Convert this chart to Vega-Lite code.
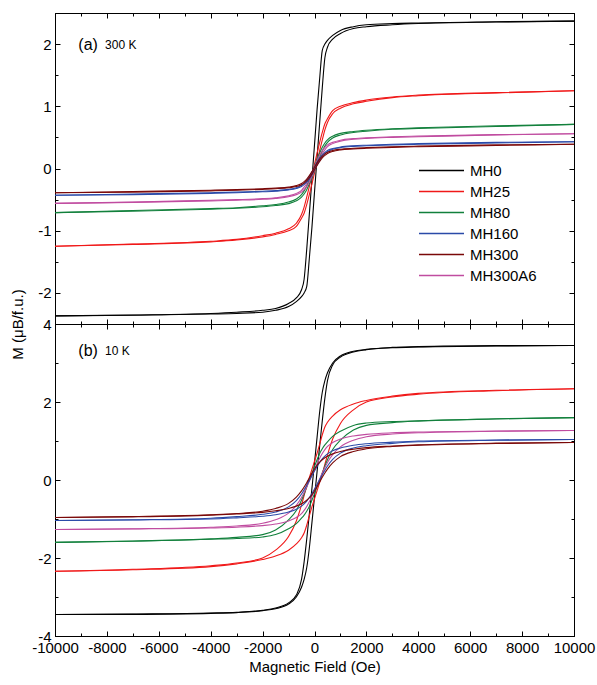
{
"$schema": "https://vega.github.io/schema/vega-lite/v6.json",
"padding": {"left": 10, "top": 12, "right": 20, "bottom": 5},
"config": {"font": "Liberation Sans", "view": {"stroke": "black", "strokeWidth": 1}, "axis": {"domainColor": "black", "tickColor": "black", "labelColor": "black", "titleColor": "black", "grid": false, "labelFontSize": 15, "titleFontSize": 15, "titleFontWeight": "normal", "labelOverlap": false, "labelFlush": false}},
"datasets": {
"a": [
{"s":"MH0","b":"d","h":10000,"m":2.37},{"s":"MH0","b":"d","h":7000,"m":2.36},{"s":"MH0","b":"d","h":4000,"m":2.34},{"s":"MH0","b":"d","h":3000,"m":2.33},{"s":"MH0","b":"d","h":2000,"m":2.31},{"s":"MH0","b":"d","h":1500,"m":2.28},{"s":"MH0","b":"d","h":1000,"m":2.22},{"s":"MH0","b":"d","h":700,"m":2.14},{"s":"MH0","b":"d","h":500,"m":2.06},{"s":"MH0","b":"d","h":400,"m":2.0},{"s":"MH0","b":"d","h":300,"m":1.9},{"s":"MH0","b":"d","h":200,"m":1.45},{"s":"MH0","b":"d","h":100,"m":0.95},{"s":"MH0","b":"d","h":0,"m":0.38},{"s":"MH0","b":"d","h":-100,"m":-0.18},{"s":"MH0","b":"d","h":-200,"m":-0.74},{"s":"MH0","b":"d","h":-300,"m":-1.3},{"s":"MH0","b":"d","h":-400,"m":-1.78},{"s":"MH0","b":"d","h":-500,"m":-1.95},{"s":"MH0","b":"d","h":-700,"m":-2.08},{"s":"MH0","b":"d","h":-1000,"m":-2.17},{"s":"MH0","b":"d","h":-1500,"m":-2.25},{"s":"MH0","b":"d","h":-2000,"m":-2.28},{"s":"MH0","b":"d","h":-3000,"m":-2.31},{"s":"MH0","b":"d","h":-4000,"m":-2.33},{"s":"MH0","b":"d","h":-7000,"m":-2.355},{"s":"MH0","b":"d","h":-10000,"m":-2.37},
{"s":"MH0","b":"a","h":10000,"m":2.37},{"s":"MH0","b":"a","h":7000,"m":2.355},{"s":"MH0","b":"a","h":4000,"m":2.33},{"s":"MH0","b":"a","h":3000,"m":2.31},{"s":"MH0","b":"a","h":2000,"m":2.28},{"s":"MH0","b":"a","h":1500,"m":2.25},{"s":"MH0","b":"a","h":1000,"m":2.17},{"s":"MH0","b":"a","h":700,"m":2.08},{"s":"MH0","b":"a","h":500,"m":1.95},{"s":"MH0","b":"a","h":400,"m":1.78},{"s":"MH0","b":"a","h":300,"m":1.3},{"s":"MH0","b":"a","h":200,"m":0.74},{"s":"MH0","b":"a","h":100,"m":0.18},{"s":"MH0","b":"a","h":0,"m":-0.38},{"s":"MH0","b":"a","h":-100,"m":-0.95},{"s":"MH0","b":"a","h":-200,"m":-1.45},{"s":"MH0","b":"a","h":-300,"m":-1.9},{"s":"MH0","b":"a","h":-400,"m":-2.0},{"s":"MH0","b":"a","h":-500,"m":-2.06},{"s":"MH0","b":"a","h":-700,"m":-2.14},{"s":"MH0","b":"a","h":-1000,"m":-2.22},{"s":"MH0","b":"a","h":-1500,"m":-2.28},{"s":"MH0","b":"a","h":-2000,"m":-2.31},{"s":"MH0","b":"a","h":-3000,"m":-2.33},{"s":"MH0","b":"a","h":-4000,"m":-2.34},{"s":"MH0","b":"a","h":-7000,"m":-2.36},{"s":"MH0","b":"a","h":-10000,"m":-2.37},
{"s":"MH25","b":"d","h":10000,"m":1.25},{"s":"MH25","b":"d","h":7000,"m":1.22},{"s":"MH25","b":"d","h":4000,"m":1.18},{"s":"MH25","b":"d","h":3000,"m":1.15},{"s":"MH25","b":"d","h":2000,"m":1.1},{"s":"MH25","b":"d","h":1500,"m":1.06},{"s":"MH25","b":"d","h":1000,"m":1.0},{"s":"MH25","b":"d","h":700,"m":0.93},{"s":"MH25","b":"d","h":500,"m":0.8},{"s":"MH25","b":"d","h":400,"m":0.72},{"s":"MH25","b":"d","h":300,"m":0.58},{"s":"MH25","b":"d","h":200,"m":0.42},{"s":"MH25","b":"d","h":100,"m":0.25},{"s":"MH25","b":"d","h":0,"m":0.07},{"s":"MH25","b":"d","h":-100,"m":-0.11},{"s":"MH25","b":"d","h":-200,"m":-0.29},{"s":"MH25","b":"d","h":-300,"m":-0.46},{"s":"MH25","b":"d","h":-400,"m":-0.62},{"s":"MH25","b":"d","h":-500,"m":-0.74},{"s":"MH25","b":"d","h":-700,"m":-0.88},{"s":"MH25","b":"d","h":-1000,"m":-0.97},{"s":"MH25","b":"d","h":-1500,"m":-1.04},{"s":"MH25","b":"d","h":-2000,"m":-1.08},{"s":"MH25","b":"d","h":-3000,"m":-1.14},{"s":"MH25","b":"d","h":-4000,"m":-1.17},{"s":"MH25","b":"d","h":-7000,"m":-1.215},{"s":"MH25","b":"d","h":-10000,"m":-1.25},
{"s":"MH25","b":"a","h":10000,"m":1.25},{"s":"MH25","b":"a","h":7000,"m":1.215},{"s":"MH25","b":"a","h":4000,"m":1.17},{"s":"MH25","b":"a","h":3000,"m":1.14},{"s":"MH25","b":"a","h":2000,"m":1.08},{"s":"MH25","b":"a","h":1500,"m":1.04},{"s":"MH25","b":"a","h":1000,"m":0.97},{"s":"MH25","b":"a","h":700,"m":0.88},{"s":"MH25","b":"a","h":500,"m":0.74},{"s":"MH25","b":"a","h":400,"m":0.62},{"s":"MH25","b":"a","h":300,"m":0.46},{"s":"MH25","b":"a","h":200,"m":0.29},{"s":"MH25","b":"a","h":100,"m":0.11},{"s":"MH25","b":"a","h":0,"m":-0.07},{"s":"MH25","b":"a","h":-100,"m":-0.25},{"s":"MH25","b":"a","h":-200,"m":-0.42},{"s":"MH25","b":"a","h":-300,"m":-0.58},{"s":"MH25","b":"a","h":-400,"m":-0.72},{"s":"MH25","b":"a","h":-500,"m":-0.8},{"s":"MH25","b":"a","h":-700,"m":-0.93},{"s":"MH25","b":"a","h":-1000,"m":-1.0},{"s":"MH25","b":"a","h":-1500,"m":-1.06},{"s":"MH25","b":"a","h":-2000,"m":-1.1},{"s":"MH25","b":"a","h":-3000,"m":-1.15},{"s":"MH25","b":"a","h":-4000,"m":-1.18},{"s":"MH25","b":"a","h":-7000,"m":-1.22},{"s":"MH25","b":"a","h":-10000,"m":-1.25},
{"s":"MH80","b":"d","h":10000,"m":0.71},{"s":"MH80","b":"d","h":7000,"m":0.685},{"s":"MH80","b":"d","h":4000,"m":0.655},{"s":"MH80","b":"d","h":3000,"m":0.64},{"s":"MH80","b":"d","h":2000,"m":0.615},{"s":"MH80","b":"d","h":1500,"m":0.595},{"s":"MH80","b":"d","h":1000,"m":0.565},{"s":"MH80","b":"d","h":700,"m":0.52},{"s":"MH80","b":"d","h":500,"m":0.46},{"s":"MH80","b":"d","h":400,"m":0.41},{"s":"MH80","b":"d","h":300,"m":0.34},{"s":"MH80","b":"d","h":200,"m":0.25},{"s":"MH80","b":"d","h":100,"m":0.15},{"s":"MH80","b":"d","h":0,"m":0.04},{"s":"MH80","b":"d","h":-100,"m":-0.07},{"s":"MH80","b":"d","h":-200,"m":-0.18},{"s":"MH80","b":"d","h":-300,"m":-0.28},{"s":"MH80","b":"d","h":-400,"m":-0.36},{"s":"MH80","b":"d","h":-500,"m":-0.42},{"s":"MH80","b":"d","h":-700,"m":-0.49},{"s":"MH80","b":"d","h":-1000,"m":-0.54},{"s":"MH80","b":"d","h":-1500,"m":-0.58},{"s":"MH80","b":"d","h":-2000,"m":-0.6},{"s":"MH80","b":"d","h":-3000,"m":-0.63},{"s":"MH80","b":"d","h":-4000,"m":-0.645},{"s":"MH80","b":"d","h":-7000,"m":-0.675},{"s":"MH80","b":"d","h":-10000,"m":-0.71},
{"s":"MH80","b":"a","h":10000,"m":0.71},{"s":"MH80","b":"a","h":7000,"m":0.675},{"s":"MH80","b":"a","h":4000,"m":0.645},{"s":"MH80","b":"a","h":3000,"m":0.63},{"s":"MH80","b":"a","h":2000,"m":0.6},{"s":"MH80","b":"a","h":1500,"m":0.58},{"s":"MH80","b":"a","h":1000,"m":0.54},{"s":"MH80","b":"a","h":700,"m":0.49},{"s":"MH80","b":"a","h":500,"m":0.42},{"s":"MH80","b":"a","h":400,"m":0.36},{"s":"MH80","b":"a","h":300,"m":0.28},{"s":"MH80","b":"a","h":200,"m":0.18},{"s":"MH80","b":"a","h":100,"m":0.07},{"s":"MH80","b":"a","h":0,"m":-0.04},{"s":"MH80","b":"a","h":-100,"m":-0.15},{"s":"MH80","b":"a","h":-200,"m":-0.25},{"s":"MH80","b":"a","h":-300,"m":-0.34},{"s":"MH80","b":"a","h":-400,"m":-0.41},{"s":"MH80","b":"a","h":-500,"m":-0.46},{"s":"MH80","b":"a","h":-700,"m":-0.52},{"s":"MH80","b":"a","h":-1000,"m":-0.565},{"s":"MH80","b":"a","h":-1500,"m":-0.595},{"s":"MH80","b":"a","h":-2000,"m":-0.615},{"s":"MH80","b":"a","h":-3000,"m":-0.64},{"s":"MH80","b":"a","h":-4000,"m":-0.655},{"s":"MH80","b":"a","h":-7000,"m":-0.685},{"s":"MH80","b":"a","h":-10000,"m":-0.71},
{"s":"MH300A6","b":"d","h":10000,"m":0.56},{"s":"MH300A6","b":"d","h":7000,"m":0.545},{"s":"MH300A6","b":"d","h":4000,"m":0.52},{"s":"MH300A6","b":"d","h":3000,"m":0.51},{"s":"MH300A6","b":"d","h":2000,"m":0.495},{"s":"MH300A6","b":"d","h":1500,"m":0.48},{"s":"MH300A6","b":"d","h":1000,"m":0.455},{"s":"MH300A6","b":"d","h":700,"m":0.42},{"s":"MH300A6","b":"d","h":500,"m":0.38},{"s":"MH300A6","b":"d","h":400,"m":0.34},{"s":"MH300A6","b":"d","h":300,"m":0.29},{"s":"MH300A6","b":"d","h":200,"m":0.22},{"s":"MH300A6","b":"d","h":100,"m":0.13},{"s":"MH300A6","b":"d","h":0,"m":0.03},{"s":"MH300A6","b":"d","h":-100,"m":-0.07},{"s":"MH300A6","b":"d","h":-200,"m":-0.16},{"s":"MH300A6","b":"d","h":-300,"m":-0.24},{"s":"MH300A6","b":"d","h":-400,"m":-0.3},{"s":"MH300A6","b":"d","h":-500,"m":-0.35},{"s":"MH300A6","b":"d","h":-700,"m":-0.4},{"s":"MH300A6","b":"d","h":-1000,"m":-0.44},{"s":"MH300A6","b":"d","h":-1500,"m":-0.47},{"s":"MH300A6","b":"d","h":-2000,"m":-0.485},{"s":"MH300A6","b":"d","h":-3000,"m":-0.5},{"s":"MH300A6","b":"d","h":-4000,"m":-0.51},{"s":"MH300A6","b":"d","h":-7000,"m":-0.54},{"s":"MH300A6","b":"d","h":-10000,"m":-0.56},
{"s":"MH300A6","b":"a","h":10000,"m":0.56},{"s":"MH300A6","b":"a","h":7000,"m":0.54},{"s":"MH300A6","b":"a","h":4000,"m":0.51},{"s":"MH300A6","b":"a","h":3000,"m":0.5},{"s":"MH300A6","b":"a","h":2000,"m":0.485},{"s":"MH300A6","b":"a","h":1500,"m":0.47},{"s":"MH300A6","b":"a","h":1000,"m":0.44},{"s":"MH300A6","b":"a","h":700,"m":0.4},{"s":"MH300A6","b":"a","h":500,"m":0.35},{"s":"MH300A6","b":"a","h":400,"m":0.3},{"s":"MH300A6","b":"a","h":300,"m":0.24},{"s":"MH300A6","b":"a","h":200,"m":0.16},{"s":"MH300A6","b":"a","h":100,"m":0.07},{"s":"MH300A6","b":"a","h":0,"m":-0.03},{"s":"MH300A6","b":"a","h":-100,"m":-0.13},{"s":"MH300A6","b":"a","h":-200,"m":-0.22},{"s":"MH300A6","b":"a","h":-300,"m":-0.29},{"s":"MH300A6","b":"a","h":-400,"m":-0.34},{"s":"MH300A6","b":"a","h":-500,"m":-0.38},{"s":"MH300A6","b":"a","h":-700,"m":-0.42},{"s":"MH300A6","b":"a","h":-1000,"m":-0.455},{"s":"MH300A6","b":"a","h":-1500,"m":-0.48},{"s":"MH300A6","b":"a","h":-2000,"m":-0.495},{"s":"MH300A6","b":"a","h":-3000,"m":-0.51},{"s":"MH300A6","b":"a","h":-4000,"m":-0.52},{"s":"MH300A6","b":"a","h":-7000,"m":-0.545},{"s":"MH300A6","b":"a","h":-10000,"m":-0.56},
{"s":"MH160","b":"d","h":10000,"m":0.43},{"s":"MH160","b":"d","h":7000,"m":0.42},{"s":"MH160","b":"d","h":4000,"m":0.4},{"s":"MH160","b":"d","h":3000,"m":0.39},{"s":"MH160","b":"d","h":2000,"m":0.375},{"s":"MH160","b":"d","h":1500,"m":0.365},{"s":"MH160","b":"d","h":1000,"m":0.345},{"s":"MH160","b":"d","h":700,"m":0.32},{"s":"MH160","b":"d","h":500,"m":0.29},{"s":"MH160","b":"d","h":400,"m":0.26},{"s":"MH160","b":"d","h":300,"m":0.22},{"s":"MH160","b":"d","h":200,"m":0.17},{"s":"MH160","b":"d","h":100,"m":0.1},{"s":"MH160","b":"d","h":0,"m":0.02},{"s":"MH160","b":"d","h":-100,"m":-0.06},{"s":"MH160","b":"d","h":-200,"m":-0.13},{"s":"MH160","b":"d","h":-300,"m":-0.19},{"s":"MH160","b":"d","h":-400,"m":-0.24},{"s":"MH160","b":"d","h":-500,"m":-0.27},{"s":"MH160","b":"d","h":-700,"m":-0.31},{"s":"MH160","b":"d","h":-1000,"m":-0.335},{"s":"MH160","b":"d","h":-1500,"m":-0.355},{"s":"MH160","b":"d","h":-2000,"m":-0.365},{"s":"MH160","b":"d","h":-3000,"m":-0.38},{"s":"MH160","b":"d","h":-4000,"m":-0.39},{"s":"MH160","b":"d","h":-7000,"m":-0.41},{"s":"MH160","b":"d","h":-10000,"m":-0.43},
{"s":"MH160","b":"a","h":10000,"m":0.43},{"s":"MH160","b":"a","h":7000,"m":0.41},{"s":"MH160","b":"a","h":4000,"m":0.39},{"s":"MH160","b":"a","h":3000,"m":0.38},{"s":"MH160","b":"a","h":2000,"m":0.365},{"s":"MH160","b":"a","h":1500,"m":0.355},{"s":"MH160","b":"a","h":1000,"m":0.335},{"s":"MH160","b":"a","h":700,"m":0.31},{"s":"MH160","b":"a","h":500,"m":0.27},{"s":"MH160","b":"a","h":400,"m":0.24},{"s":"MH160","b":"a","h":300,"m":0.19},{"s":"MH160","b":"a","h":200,"m":0.13},{"s":"MH160","b":"a","h":100,"m":0.06},{"s":"MH160","b":"a","h":0,"m":-0.02},{"s":"MH160","b":"a","h":-100,"m":-0.1},{"s":"MH160","b":"a","h":-200,"m":-0.17},{"s":"MH160","b":"a","h":-300,"m":-0.22},{"s":"MH160","b":"a","h":-400,"m":-0.26},{"s":"MH160","b":"a","h":-500,"m":-0.29},{"s":"MH160","b":"a","h":-700,"m":-0.32},{"s":"MH160","b":"a","h":-1000,"m":-0.345},{"s":"MH160","b":"a","h":-1500,"m":-0.365},{"s":"MH160","b":"a","h":-2000,"m":-0.375},{"s":"MH160","b":"a","h":-3000,"m":-0.39},{"s":"MH160","b":"a","h":-4000,"m":-0.4},{"s":"MH160","b":"a","h":-7000,"m":-0.42},{"s":"MH160","b":"a","h":-10000,"m":-0.43},
{"s":"MH300","b":"d","h":10000,"m":0.39},{"s":"MH300","b":"d","h":7000,"m":0.38},{"s":"MH300","b":"d","h":4000,"m":0.36},{"s":"MH300","b":"d","h":3000,"m":0.35},{"s":"MH300","b":"d","h":2000,"m":0.335},{"s":"MH300","b":"d","h":1500,"m":0.325},{"s":"MH300","b":"d","h":1000,"m":0.31},{"s":"MH300","b":"d","h":700,"m":0.29},{"s":"MH300","b":"d","h":500,"m":0.26},{"s":"MH300","b":"d","h":400,"m":0.235},{"s":"MH300","b":"d","h":300,"m":0.2},{"s":"MH300","b":"d","h":200,"m":0.15},{"s":"MH300","b":"d","h":100,"m":0.09},{"s":"MH300","b":"d","h":0,"m":0.02},{"s":"MH300","b":"d","h":-100,"m":-0.05},{"s":"MH300","b":"d","h":-200,"m":-0.115},{"s":"MH300","b":"d","h":-300,"m":-0.17},{"s":"MH300","b":"d","h":-400,"m":-0.21},{"s":"MH300","b":"d","h":-500,"m":-0.24},{"s":"MH300","b":"d","h":-700,"m":-0.275},{"s":"MH300","b":"d","h":-1000,"m":-0.3},{"s":"MH300","b":"d","h":-1500,"m":-0.315},{"s":"MH300","b":"d","h":-2000,"m":-0.325},{"s":"MH300","b":"d","h":-3000,"m":-0.34},{"s":"MH300","b":"d","h":-4000,"m":-0.35},{"s":"MH300","b":"d","h":-7000,"m":-0.37},{"s":"MH300","b":"d","h":-10000,"m":-0.39},
{"s":"MH300","b":"a","h":10000,"m":0.39},{"s":"MH300","b":"a","h":7000,"m":0.37},{"s":"MH300","b":"a","h":4000,"m":0.35},{"s":"MH300","b":"a","h":3000,"m":0.34},{"s":"MH300","b":"a","h":2000,"m":0.325},{"s":"MH300","b":"a","h":1500,"m":0.315},{"s":"MH300","b":"a","h":1000,"m":0.3},{"s":"MH300","b":"a","h":700,"m":0.275},{"s":"MH300","b":"a","h":500,"m":0.24},{"s":"MH300","b":"a","h":400,"m":0.21},{"s":"MH300","b":"a","h":300,"m":0.17},{"s":"MH300","b":"a","h":200,"m":0.115},{"s":"MH300","b":"a","h":100,"m":0.05},{"s":"MH300","b":"a","h":0,"m":-0.02},{"s":"MH300","b":"a","h":-100,"m":-0.09},{"s":"MH300","b":"a","h":-200,"m":-0.15},{"s":"MH300","b":"a","h":-300,"m":-0.2},{"s":"MH300","b":"a","h":-400,"m":-0.235},{"s":"MH300","b":"a","h":-500,"m":-0.26},{"s":"MH300","b":"a","h":-700,"m":-0.29},{"s":"MH300","b":"a","h":-1000,"m":-0.31},{"s":"MH300","b":"a","h":-1500,"m":-0.325},{"s":"MH300","b":"a","h":-2000,"m":-0.335},{"s":"MH300","b":"a","h":-3000,"m":-0.35},{"s":"MH300","b":"a","h":-4000,"m":-0.36},{"s":"MH300","b":"a","h":-7000,"m":-0.38},{"s":"MH300","b":"a","h":-10000,"m":-0.39}
],
"b": [
{"s":"MH0","b":"d","h":10000,"m":3.45},{"s":"MH0","b":"d","h":7000,"m":3.445},{"s":"MH0","b":"d","h":4000,"m":3.42},{"s":"MH0","b":"d","h":3000,"m":3.4},{"s":"MH0","b":"d","h":2000,"m":3.35},{"s":"MH0","b":"d","h":1500,"m":3.3},{"s":"MH0","b":"d","h":1000,"m":3.18},{"s":"MH0","b":"d","h":700,"m":3.0},{"s":"MH0","b":"d","h":500,"m":2.75},{"s":"MH0","b":"d","h":400,"m":2.55},{"s":"MH0","b":"d","h":300,"m":2.25},{"s":"MH0","b":"d","h":200,"m":1.75},{"s":"MH0","b":"d","h":100,"m":1.1},{"s":"MH0","b":"d","h":0,"m":0.44},{"s":"MH0","b":"d","h":-100,"m":-0.22},{"s":"MH0","b":"d","h":-200,"m":-0.88},{"s":"MH0","b":"d","h":-300,"m":-1.52},{"s":"MH0","b":"d","h":-400,"m":-2.1},{"s":"MH0","b":"d","h":-500,"m":-2.55},{"s":"MH0","b":"d","h":-700,"m":-2.95},{"s":"MH0","b":"d","h":-1000,"m":-3.15},{"s":"MH0","b":"d","h":-1500,"m":-3.28},{"s":"MH0","b":"d","h":-2000,"m":-3.34},{"s":"MH0","b":"d","h":-3000,"m":-3.39},{"s":"MH0","b":"d","h":-4000,"m":-3.41},{"s":"MH0","b":"d","h":-7000,"m":-3.435},{"s":"MH0","b":"d","h":-10000,"m":-3.45},
{"s":"MH0","b":"a","h":10000,"m":3.45},{"s":"MH0","b":"a","h":7000,"m":3.435},{"s":"MH0","b":"a","h":4000,"m":3.41},{"s":"MH0","b":"a","h":3000,"m":3.39},{"s":"MH0","b":"a","h":2000,"m":3.34},{"s":"MH0","b":"a","h":1500,"m":3.28},{"s":"MH0","b":"a","h":1000,"m":3.15},{"s":"MH0","b":"a","h":700,"m":2.95},{"s":"MH0","b":"a","h":500,"m":2.55},{"s":"MH0","b":"a","h":400,"m":2.1},{"s":"MH0","b":"a","h":300,"m":1.52},{"s":"MH0","b":"a","h":200,"m":0.88},{"s":"MH0","b":"a","h":100,"m":0.22},{"s":"MH0","b":"a","h":0,"m":-0.44},{"s":"MH0","b":"a","h":-100,"m":-1.1},{"s":"MH0","b":"a","h":-200,"m":-1.75},{"s":"MH0","b":"a","h":-300,"m":-2.25},{"s":"MH0","b":"a","h":-400,"m":-2.55},{"s":"MH0","b":"a","h":-500,"m":-2.75},{"s":"MH0","b":"a","h":-700,"m":-3.0},{"s":"MH0","b":"a","h":-1000,"m":-3.18},{"s":"MH0","b":"a","h":-1500,"m":-3.3},{"s":"MH0","b":"a","h":-2000,"m":-3.35},{"s":"MH0","b":"a","h":-3000,"m":-3.4},{"s":"MH0","b":"a","h":-4000,"m":-3.42},{"s":"MH0","b":"a","h":-7000,"m":-3.445},{"s":"MH0","b":"a","h":-10000,"m":-3.45},
{"s":"MH25","b":"d","h":10000,"m":2.34},{"s":"MH25","b":"d","h":7000,"m":2.3},{"s":"MH25","b":"d","h":4000,"m":2.22},{"s":"MH25","b":"d","h":3000,"m":2.15},{"s":"MH25","b":"d","h":2000,"m":2.04},{"s":"MH25","b":"d","h":1500,"m":1.95},{"s":"MH25","b":"d","h":1000,"m":1.8},{"s":"MH25","b":"d","h":700,"m":1.64},{"s":"MH25","b":"d","h":500,"m":1.48},{"s":"MH25","b":"d","h":400,"m":1.36},{"s":"MH25","b":"d","h":300,"m":1.16},{"s":"MH25","b":"d","h":200,"m":0.92},{"s":"MH25","b":"d","h":100,"m":0.69},{"s":"MH25","b":"d","h":0,"m":0.48},{"s":"MH25","b":"d","h":-100,"m":0.27},{"s":"MH25","b":"d","h":-200,"m":0.06},{"s":"MH25","b":"d","h":-300,"m":-0.16},{"s":"MH25","b":"d","h":-400,"m":-0.4},{"s":"MH25","b":"d","h":-500,"m":-0.64},{"s":"MH25","b":"d","h":-700,"m":-1.05},{"s":"MH25","b":"d","h":-1000,"m":-1.45},{"s":"MH25","b":"d","h":-1500,"m":-1.8},{"s":"MH25","b":"d","h":-2000,"m":-2.0},{"s":"MH25","b":"d","h":-3000,"m":-2.13},{"s":"MH25","b":"d","h":-4000,"m":-2.2},{"s":"MH25","b":"d","h":-7000,"m":-2.29},{"s":"MH25","b":"d","h":-10000,"m":-2.34},
{"s":"MH25","b":"a","h":10000,"m":2.34},{"s":"MH25","b":"a","h":7000,"m":2.29},{"s":"MH25","b":"a","h":4000,"m":2.2},{"s":"MH25","b":"a","h":3000,"m":2.13},{"s":"MH25","b":"a","h":2000,"m":2.0},{"s":"MH25","b":"a","h":1500,"m":1.8},{"s":"MH25","b":"a","h":1000,"m":1.45},{"s":"MH25","b":"a","h":700,"m":1.05},{"s":"MH25","b":"a","h":500,"m":0.64},{"s":"MH25","b":"a","h":400,"m":0.4},{"s":"MH25","b":"a","h":300,"m":0.16},{"s":"MH25","b":"a","h":200,"m":-0.06},{"s":"MH25","b":"a","h":100,"m":-0.27},{"s":"MH25","b":"a","h":0,"m":-0.48},{"s":"MH25","b":"a","h":-100,"m":-0.69},{"s":"MH25","b":"a","h":-200,"m":-0.92},{"s":"MH25","b":"a","h":-300,"m":-1.16},{"s":"MH25","b":"a","h":-400,"m":-1.36},{"s":"MH25","b":"a","h":-500,"m":-1.48},{"s":"MH25","b":"a","h":-700,"m":-1.64},{"s":"MH25","b":"a","h":-1000,"m":-1.8},{"s":"MH25","b":"a","h":-1500,"m":-1.95},{"s":"MH25","b":"a","h":-2000,"m":-2.04},{"s":"MH25","b":"a","h":-3000,"m":-2.15},{"s":"MH25","b":"a","h":-4000,"m":-2.22},{"s":"MH25","b":"a","h":-7000,"m":-2.3},{"s":"MH25","b":"a","h":-10000,"m":-2.34},
{"s":"MH80","b":"d","h":10000,"m":1.6},{"s":"MH80","b":"d","h":7000,"m":1.57},{"s":"MH80","b":"d","h":4000,"m":1.52},{"s":"MH80","b":"d","h":3000,"m":1.5},{"s":"MH80","b":"d","h":2000,"m":1.46},{"s":"MH80","b":"d","h":1500,"m":1.4},{"s":"MH80","b":"d","h":1000,"m":1.25},{"s":"MH80","b":"d","h":700,"m":1.12},{"s":"MH80","b":"d","h":500,"m":0.98},{"s":"MH80","b":"d","h":400,"m":0.9},{"s":"MH80","b":"d","h":300,"m":0.8},{"s":"MH80","b":"d","h":200,"m":0.68},{"s":"MH80","b":"d","h":100,"m":0.52},{"s":"MH80","b":"d","h":0,"m":0.35},{"s":"MH80","b":"d","h":-100,"m":0.17},{"s":"MH80","b":"d","h":-200,"m":0.0},{"s":"MH80","b":"d","h":-300,"m":-0.18},{"s":"MH80","b":"d","h":-400,"m":-0.36},{"s":"MH80","b":"d","h":-500,"m":-0.52},{"s":"MH80","b":"d","h":-700,"m":-0.78},{"s":"MH80","b":"d","h":-1000,"m":-1.02},{"s":"MH80","b":"d","h":-1500,"m":-1.28},{"s":"MH80","b":"d","h":-2000,"m":-1.4},{"s":"MH80","b":"d","h":-3000,"m":-1.47},{"s":"MH80","b":"d","h":-4000,"m":-1.51},{"s":"MH80","b":"d","h":-7000,"m":-1.565},{"s":"MH80","b":"d","h":-10000,"m":-1.6},
{"s":"MH80","b":"a","h":10000,"m":1.6},{"s":"MH80","b":"a","h":7000,"m":1.565},{"s":"MH80","b":"a","h":4000,"m":1.51},{"s":"MH80","b":"a","h":3000,"m":1.47},{"s":"MH80","b":"a","h":2000,"m":1.4},{"s":"MH80","b":"a","h":1500,"m":1.28},{"s":"MH80","b":"a","h":1000,"m":1.02},{"s":"MH80","b":"a","h":700,"m":0.78},{"s":"MH80","b":"a","h":500,"m":0.52},{"s":"MH80","b":"a","h":400,"m":0.36},{"s":"MH80","b":"a","h":300,"m":0.18},{"s":"MH80","b":"a","h":200,"m":0.0},{"s":"MH80","b":"a","h":100,"m":-0.17},{"s":"MH80","b":"a","h":0,"m":-0.35},{"s":"MH80","b":"a","h":-100,"m":-0.52},{"s":"MH80","b":"a","h":-200,"m":-0.68},{"s":"MH80","b":"a","h":-300,"m":-0.8},{"s":"MH80","b":"a","h":-400,"m":-0.9},{"s":"MH80","b":"a","h":-500,"m":-0.98},{"s":"MH80","b":"a","h":-700,"m":-1.12},{"s":"MH80","b":"a","h":-1000,"m":-1.25},{"s":"MH80","b":"a","h":-1500,"m":-1.4},{"s":"MH80","b":"a","h":-2000,"m":-1.46},{"s":"MH80","b":"a","h":-3000,"m":-1.5},{"s":"MH80","b":"a","h":-4000,"m":-1.52},{"s":"MH80","b":"a","h":-7000,"m":-1.57},{"s":"MH80","b":"a","h":-10000,"m":-1.6},
{"s":"MH300A6","b":"d","h":10000,"m":1.27},{"s":"MH300A6","b":"d","h":7000,"m":1.255},{"s":"MH300A6","b":"d","h":4000,"m":1.23},{"s":"MH300A6","b":"d","h":3000,"m":1.21},{"s":"MH300A6","b":"d","h":2000,"m":1.17},{"s":"MH300A6","b":"d","h":1500,"m":1.13},{"s":"MH300A6","b":"d","h":1000,"m":1.05},{"s":"MH300A6","b":"d","h":700,"m":0.96},{"s":"MH300A6","b":"d","h":500,"m":0.86},{"s":"MH300A6","b":"d","h":400,"m":0.78},{"s":"MH300A6","b":"d","h":300,"m":0.68},{"s":"MH300A6","b":"d","h":200,"m":0.56},{"s":"MH300A6","b":"d","h":100,"m":0.42},{"s":"MH300A6","b":"d","h":0,"m":0.27},{"s":"MH300A6","b":"d","h":-100,"m":0.12},{"s":"MH300A6","b":"d","h":-200,"m":-0.03},{"s":"MH300A6","b":"d","h":-300,"m":-0.18},{"s":"MH300A6","b":"d","h":-400,"m":-0.32},{"s":"MH300A6","b":"d","h":-500,"m":-0.45},{"s":"MH300A6","b":"d","h":-700,"m":-0.65},{"s":"MH300A6","b":"d","h":-1000,"m":-0.85},{"s":"MH300A6","b":"d","h":-1500,"m":-1.02},{"s":"MH300A6","b":"d","h":-2000,"m":-1.11},{"s":"MH300A6","b":"d","h":-3000,"m":-1.18},{"s":"MH300A6","b":"d","h":-4000,"m":-1.21},{"s":"MH300A6","b":"d","h":-7000,"m":-1.25},{"s":"MH300A6","b":"d","h":-10000,"m":-1.27},
{"s":"MH300A6","b":"a","h":10000,"m":1.27},{"s":"MH300A6","b":"a","h":7000,"m":1.25},{"s":"MH300A6","b":"a","h":4000,"m":1.21},{"s":"MH300A6","b":"a","h":3000,"m":1.18},{"s":"MH300A6","b":"a","h":2000,"m":1.11},{"s":"MH300A6","b":"a","h":1500,"m":1.02},{"s":"MH300A6","b":"a","h":1000,"m":0.85},{"s":"MH300A6","b":"a","h":700,"m":0.65},{"s":"MH300A6","b":"a","h":500,"m":0.45},{"s":"MH300A6","b":"a","h":400,"m":0.32},{"s":"MH300A6","b":"a","h":300,"m":0.18},{"s":"MH300A6","b":"a","h":200,"m":0.03},{"s":"MH300A6","b":"a","h":100,"m":-0.12},{"s":"MH300A6","b":"a","h":0,"m":-0.27},{"s":"MH300A6","b":"a","h":-100,"m":-0.42},{"s":"MH300A6","b":"a","h":-200,"m":-0.56},{"s":"MH300A6","b":"a","h":-300,"m":-0.68},{"s":"MH300A6","b":"a","h":-400,"m":-0.78},{"s":"MH300A6","b":"a","h":-500,"m":-0.86},{"s":"MH300A6","b":"a","h":-700,"m":-0.96},{"s":"MH300A6","b":"a","h":-1000,"m":-1.05},{"s":"MH300A6","b":"a","h":-1500,"m":-1.13},{"s":"MH300A6","b":"a","h":-2000,"m":-1.17},{"s":"MH300A6","b":"a","h":-3000,"m":-1.21},{"s":"MH300A6","b":"a","h":-4000,"m":-1.23},{"s":"MH300A6","b":"a","h":-7000,"m":-1.255},{"s":"MH300A6","b":"a","h":-10000,"m":-1.27},
{"s":"MH160","b":"d","h":10000,"m":1.04},{"s":"MH160","b":"d","h":7000,"m":1.025},{"s":"MH160","b":"d","h":4000,"m":1.0},{"s":"MH160","b":"d","h":3000,"m":0.97},{"s":"MH160","b":"d","h":2000,"m":0.93},{"s":"MH160","b":"d","h":1500,"m":0.89},{"s":"MH160","b":"d","h":1000,"m":0.82},{"s":"MH160","b":"d","h":700,"m":0.75},{"s":"MH160","b":"d","h":500,"m":0.67},{"s":"MH160","b":"d","h":400,"m":0.61},{"s":"MH160","b":"d","h":300,"m":0.54},{"s":"MH160","b":"d","h":200,"m":0.45},{"s":"MH160","b":"d","h":100,"m":0.35},{"s":"MH160","b":"d","h":0,"m":0.23},{"s":"MH160","b":"d","h":-100,"m":0.11},{"s":"MH160","b":"d","h":-200,"m":-0.01},{"s":"MH160","b":"d","h":-300,"m":-0.13},{"s":"MH160","b":"d","h":-400,"m":-0.25},{"s":"MH160","b":"d","h":-500,"m":-0.36},{"s":"MH160","b":"d","h":-700,"m":-0.53},{"s":"MH160","b":"d","h":-1000,"m":-0.69},{"s":"MH160","b":"d","h":-1500,"m":-0.82},{"s":"MH160","b":"d","h":-2000,"m":-0.88},{"s":"MH160","b":"d","h":-3000,"m":-0.94},{"s":"MH160","b":"d","h":-4000,"m":-0.98},{"s":"MH160","b":"d","h":-7000,"m":-1.02},{"s":"MH160","b":"d","h":-10000,"m":-1.04},
{"s":"MH160","b":"a","h":10000,"m":1.04},{"s":"MH160","b":"a","h":7000,"m":1.02},{"s":"MH160","b":"a","h":4000,"m":0.98},{"s":"MH160","b":"a","h":3000,"m":0.94},{"s":"MH160","b":"a","h":2000,"m":0.88},{"s":"MH160","b":"a","h":1500,"m":0.82},{"s":"MH160","b":"a","h":1000,"m":0.69},{"s":"MH160","b":"a","h":700,"m":0.53},{"s":"MH160","b":"a","h":500,"m":0.36},{"s":"MH160","b":"a","h":400,"m":0.25},{"s":"MH160","b":"a","h":300,"m":0.13},{"s":"MH160","b":"a","h":200,"m":0.01},{"s":"MH160","b":"a","h":100,"m":-0.11},{"s":"MH160","b":"a","h":0,"m":-0.23},{"s":"MH160","b":"a","h":-100,"m":-0.35},{"s":"MH160","b":"a","h":-200,"m":-0.45},{"s":"MH160","b":"a","h":-300,"m":-0.54},{"s":"MH160","b":"a","h":-400,"m":-0.61},{"s":"MH160","b":"a","h":-500,"m":-0.67},{"s":"MH160","b":"a","h":-700,"m":-0.75},{"s":"MH160","b":"a","h":-1000,"m":-0.82},{"s":"MH160","b":"a","h":-1500,"m":-0.89},{"s":"MH160","b":"a","h":-2000,"m":-0.93},{"s":"MH160","b":"a","h":-3000,"m":-0.97},{"s":"MH160","b":"a","h":-4000,"m":-1.0},{"s":"MH160","b":"a","h":-7000,"m":-1.025},{"s":"MH160","b":"a","h":-10000,"m":-1.04},
{"s":"MH300","b":"d","h":10000,"m":0.96},{"s":"MH300","b":"d","h":7000,"m":0.945},{"s":"MH300","b":"d","h":4000,"m":0.9},{"s":"MH300","b":"d","h":3000,"m":0.87},{"s":"MH300","b":"d","h":2000,"m":0.83},{"s":"MH300","b":"d","h":1500,"m":0.79},{"s":"MH300","b":"d","h":1000,"m":0.73},{"s":"MH300","b":"d","h":700,"m":0.67},{"s":"MH300","b":"d","h":500,"m":0.61},{"s":"MH300","b":"d","h":400,"m":0.57},{"s":"MH300","b":"d","h":300,"m":0.52},{"s":"MH300","b":"d","h":200,"m":0.46},{"s":"MH300","b":"d","h":100,"m":0.38},{"s":"MH300","b":"d","h":0,"m":0.28},{"s":"MH300","b":"d","h":-100,"m":0.17},{"s":"MH300","b":"d","h":-200,"m":0.05},{"s":"MH300","b":"d","h":-300,"m":-0.07},{"s":"MH300","b":"d","h":-400,"m":-0.18},{"s":"MH300","b":"d","h":-500,"m":-0.28},{"s":"MH300","b":"d","h":-700,"m":-0.44},{"s":"MH300","b":"d","h":-1000,"m":-0.6},{"s":"MH300","b":"d","h":-1500,"m":-0.73},{"s":"MH300","b":"d","h":-2000,"m":-0.8},{"s":"MH300","b":"d","h":-3000,"m":-0.86},{"s":"MH300","b":"d","h":-4000,"m":-0.89},{"s":"MH300","b":"d","h":-7000,"m":-0.935},{"s":"MH300","b":"d","h":-10000,"m":-0.96},
{"s":"MH300","b":"a","h":10000,"m":0.96},{"s":"MH300","b":"a","h":7000,"m":0.935},{"s":"MH300","b":"a","h":4000,"m":0.89},{"s":"MH300","b":"a","h":3000,"m":0.86},{"s":"MH300","b":"a","h":2000,"m":0.8},{"s":"MH300","b":"a","h":1500,"m":0.73},{"s":"MH300","b":"a","h":1000,"m":0.6},{"s":"MH300","b":"a","h":700,"m":0.44},{"s":"MH300","b":"a","h":500,"m":0.28},{"s":"MH300","b":"a","h":400,"m":0.18},{"s":"MH300","b":"a","h":300,"m":0.07},{"s":"MH300","b":"a","h":200,"m":-0.05},{"s":"MH300","b":"a","h":100,"m":-0.17},{"s":"MH300","b":"a","h":0,"m":-0.28},{"s":"MH300","b":"a","h":-100,"m":-0.38},{"s":"MH300","b":"a","h":-200,"m":-0.46},{"s":"MH300","b":"a","h":-300,"m":-0.52},{"s":"MH300","b":"a","h":-400,"m":-0.57},{"s":"MH300","b":"a","h":-500,"m":-0.61},{"s":"MH300","b":"a","h":-700,"m":-0.67},{"s":"MH300","b":"a","h":-1000,"m":-0.73},{"s":"MH300","b":"a","h":-1500,"m":-0.79},{"s":"MH300","b":"a","h":-2000,"m":-0.83},{"s":"MH300","b":"a","h":-3000,"m":-0.87},{"s":"MH300","b":"a","h":-4000,"m":-0.9},{"s":"MH300","b":"a","h":-7000,"m":-0.945},{"s":"MH300","b":"a","h":-10000,"m":-0.96}
]
},
"vconcat": [
{
"width": 519, "height": 311,
"layer": [
{"data": {"name": "a"},
 "mark": {"type": "line", "strokeWidth": 1.1, "interpolate": "monotone"},
 "encoding": {
  "x": {"field": "h", "type": "quantitative", "scale": {"domain": [-10000, 10000], "nice": false, "zero": false},
        "axis": {"orient": "bottom", "values": [-10000,-9000,-8000,-7000,-6000,-5000,-4000,-3000,-2000,-1000,0,1000,2000,3000,4000,5000,6000,7000,8000,9000,10000], "labels": false, "title": null, "tickSize": {"condition": {"test": "datum.value % 2000 === 0", "value": -5}, "value": -3}}},
  "y": {"field": "m", "type": "quantitative", "scale": {"domain": [-2.5, 2.5], "nice": false, "zero": false},
        "axis": {"orient": "left", "values": [-2,-1.5,-1,-0.5,0,0.5,1,1.5,2], "labelExpr": "datum.value % 1 === 0 ? '' + datum.value : ''", "title": null, "labelPadding": 9, "tickSize": {"condition": {"test": "datum.value % 1 === 0", "value": -5}, "value": -3}}},
  "color": {"field": "s", "type": "nominal",
        "scale": {"domain": ["MH0","MH25","MH80","MH160","MH300","MH300A6"], "range": ["#000000","#f01818","#12803c","#2a4aa8","#7a0808","#c04ca0"]},
        "legend": {"orient": "none", "legendX": 378, "legendY": 149, "title": null, "symbolType": "M-3,0H3", "symbolSize": 225, "symbolStrokeWidth": 1.3, "labelFontSize": 15, "labelOffset": 20, "labelColor": "black", "rowPadding": 4}},
  "detail": {"field": "b"},
  "order": {"field": "h", "type": "quantitative"}
 }},
{"data": {"name": "a"},
 "mark": {"type": "line", "opacity": 0},
 "encoding": {
  "x": {"field": "h", "type": "quantitative", "scale": {"domain": [-10000, 10000], "nice": false, "zero": false},
        "axis": {"orient": "top", "values": [-10000,-9000,-8000,-7000,-6000,-5000,-4000,-3000,-2000,-1000,0,1000,2000,3000,4000,5000,6000,7000,8000,9000,10000], "labels": false, "title": null, "tickSize": {"condition": {"test": "datum.value % 2000 === 0", "value": -5}, "value": -3}}},
  "y": {"field": "m", "type": "quantitative", "scale": {"domain": [-2.5, 2.5], "nice": false, "zero": false},
        "axis": {"orient": "right", "values": [-2,-1.5,-1,-0.5,0,0.5,1,1.5,2], "labels": false, "title": null, "tickSize": {"condition": {"test": "datum.value % 1 === 0", "value": -5}, "value": -3}}},
  "detail": {"field": "s"}
 }},
{"data": {"values": [{}]},
 "mark": {"type": "text", "align": "left", "baseline": "middle", "fontSize": 16, "font": "Liberation Sans"},
 "encoding": {"x": {"datum": -9100, "type": "quantitative", "axis": null}, "y": {"datum": 1.98, "type": "quantitative", "axis": null}, "text": {"value": "(a)"}}},
{"data": {"values": [{}]},
 "mark": {"type": "text", "align": "left", "baseline": "middle", "fontSize": 12, "font": "Liberation Sans"},
 "encoding": {"x": {"datum": -8070, "type": "quantitative", "axis": null}, "y": {"datum": 1.98, "type": "quantitative", "axis": null}, "text": {"value": "300 K"}}}
],
"resolve": {"axis": {"x": "independent", "y": "independent"}}
},
{
"width": 519, "height": 312,
"layer": [
{"data": {"name": "b"},
 "mark": {"type": "line", "strokeWidth": 1.1, "interpolate": "monotone"},
 "encoding": {
  "x": {"field": "h", "type": "quantitative", "scale": {"domain": [-10000, 10000], "nice": false, "zero": false},
        "axis": {"orient": "bottom", "values": [-10000,-9000,-8000,-7000,-6000,-5000,-4000,-3000,-2000,-1000,0,1000,2000,3000,4000,5000,6000,7000,8000,9000,10000], "labelExpr": "datum.value % 2000 === 0 ? '' + datum.value : ''", "labelPadding": 9, "title": "Magnetic Field (Oe)", "titlePadding": 2, "tickSize": {"condition": {"test": "datum.value % 2000 === 0", "value": -5}, "value": -3}}},
  "y": {"field": "m", "type": "quantitative", "scale": {"domain": [-4, 4], "nice": false, "zero": false},
        "axis": {"orient": "left", "values": [-4,-3,-2,-1,0,1,2,3,4], "labelExpr": "datum.value % 2 === 0 ? '' + datum.value : ''", "labelPadding": 9, "title": "M (μB/f.u.)", "titleAnchor": "end", "titleAlign": "center", "titlePadding": 12, "tickSize": {"condition": {"test": "datum.value % 2 === 0", "value": -5}, "value": -3}}},
  "color": {"field": "s", "type": "nominal",
        "scale": {"domain": ["MH0","MH25","MH80","MH160","MH300","MH300A6"], "range": ["#000000","#f01818","#12803c","#2a4aa8","#7a0808","#c04ca0"]},
        "legend": null},
  "detail": {"field": "b"},
  "order": {"field": "h", "type": "quantitative"}
 }},
{"data": {"name": "b"},
 "mark": {"type": "line", "opacity": 0},
 "encoding": {
  "x": {"field": "h", "type": "quantitative", "scale": {"domain": [-10000, 10000], "nice": false, "zero": false},
        "axis": {"orient": "top", "values": [-10000,-9000,-8000,-7000,-6000,-5000,-4000,-3000,-2000,-1000,0,1000,2000,3000,4000,5000,6000,7000,8000,9000,10000], "labels": false, "title": null, "tickSize": {"condition": {"test": "datum.value % 2000 === 0", "value": -5}, "value": -3}}},
  "y": {"field": "m", "type": "quantitative", "scale": {"domain": [-4, 4], "nice": false, "zero": false},
        "axis": {"orient": "right", "values": [-4,-3,-2,-1,0,1,2,3,4], "labels": false, "title": null, "tickSize": {"condition": {"test": "datum.value % 2 === 0", "value": -5}, "value": -3}}},
  "detail": {"field": "s"}
 }},
{"data": {"values": [{}]},
 "mark": {"type": "text", "align": "left", "baseline": "middle", "fontSize": 16, "font": "Liberation Sans"},
 "encoding": {"x": {"datum": -9100, "type": "quantitative", "axis": null}, "y": {"datum": 3.31, "type": "quantitative", "axis": null}, "text": {"value": "(b)"}}},
{"data": {"values": [{}]},
 "mark": {"type": "text", "align": "left", "baseline": "middle", "fontSize": 12, "font": "Liberation Sans"},
 "encoding": {"x": {"datum": -8070, "type": "quantitative", "axis": null}, "y": {"datum": 3.31, "type": "quantitative", "axis": null}, "text": {"value": "10 K"}}}
],
"resolve": {"axis": {"x": "independent", "y": "independent"}}
}
],
"spacing": 0,
"bounds": "flush",
"resolve": {"legend": {"color": "independent"}}
}
